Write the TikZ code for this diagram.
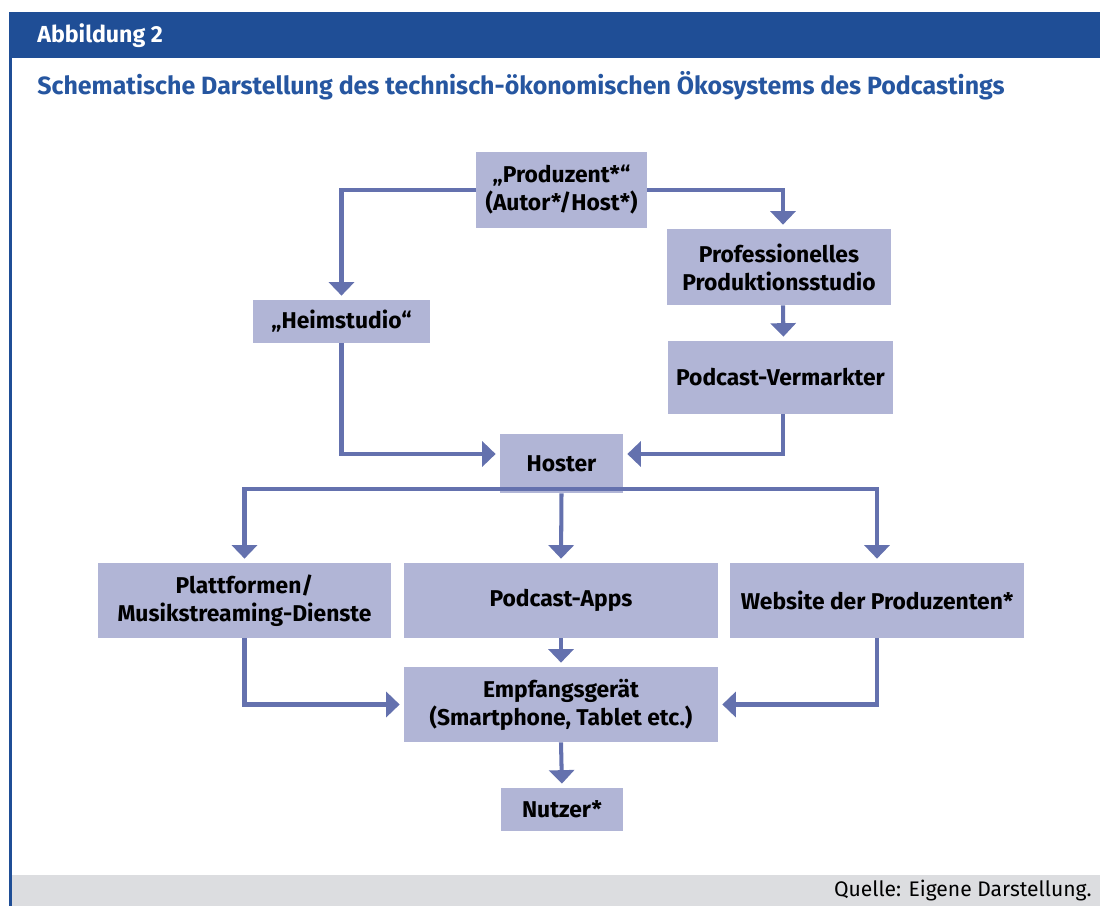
\documentclass[tikz,border=0pt]{standalone}
\usepackage{fontspec}
\setmainfont{Fira Sans}
\usepackage{tikz}
\usetikzlibrary{arrows.meta}
\definecolor{hblue}{HTML}{1F4E96}
\definecolor{tblue}{HTML}{2656A0}
\definecolor{bfill}{HTML}{B1B5D6}
\definecolor{aline}{HTML}{6471AE}
\definecolor{fgray}{HTML}{DCDDE0}
\tikzstyle{box} = [rectangle, fill=bfill, align=center, inner sep=0pt, font=\fontsize{13}{16}\selectfont\bfseries]
\tikzstyle{arrow} = [draw=aline, line width=2.3pt, -{Triangle[width=0.5cm, length=0.27cm]}, shorten >=0.08cm]

\begin{document}
\begin{tikzpicture}[x=0.02cm, y=-0.02cm]
    \useasboundingbox (0,0) rectangle (1100,906);

    % frame
    \fill[hblue] (9,12) rectangle (1100,58);
    \fill[hblue] (9,12) rectangle (12,906);
    \fill[fgray] (12,875) rectangle (1100,906);
    \node[anchor=west, inner sep=0pt, text=white, font=\fontsize{13.2}{15}\selectfont\bfseries] (fig) at (37,36) {Abbildung 2};
    \node[anchor=west, inner sep=0pt, text=tblue, font=\fontsize{14.2}{16}\selectfont\bfseries] (title) at (37,86) {Schematische Darstellung des technisch-ökonomischen Ökosystems des Podcastings};
    \node[anchor=east, inner sep=0pt, font=\fontsize{12}{14}\selectfont] (src) at (1092,891) {Quelle: Eigene Darstellung.};

    % boxes
    \node[box, minimum width=3.42cm, minimum height=1.52cm] at (561.5,190) (prod) {„Produzent*“\\(Autor*/Host*)};
    \node[box, minimum width=4.48cm, minimum height=1.52cm] at (779,267) (prof) {Professionelles\\Produktionsstudio};
    \node[box, minimum width=3.54cm, minimum height=0.86cm] at (341.5,321.5) (heim) {„Heimstudio“};
    \node[box, minimum width=4.5cm, minimum height=1.46cm] at (780.5,377.5) (verm) {Podcast-Vermarkter};
    \node[box, minimum width=2.46cm, minimum height=1.18cm] at (561.5,463.5) (host) {Hoster};
    \node[box, minimum width=5.86cm, minimum height=1.5cm] at (244.5,600.5) (plat) {Plattformen/\\Musikstreaming-Dienste};
    \node[box, minimum width=6.28cm, minimum height=1.5cm] at (561,600.5) (apps) {Podcast-Apps};
    \node[box, minimum width=5.88cm, minimum height=1.5cm] at (877,600.5) (web) {Website der Produzenten*};
    \node[box, minimum width=6.28cm, minimum height=1.5cm] at (561,704.5) (recv) {Empfangsgerät\\(Smartphone, Tablet etc.)};
    \node[box, minimum width=2.44cm, minimum height=0.86cm] at (562,809.5) (user) {Nutzer*};

    % connectors
    \path[arrow] (prod.west) -| (heim.north);
    \path[arrow] (prod.east) -| ([xshift=0.08cm]prof.north);
    \path[arrow] ([xshift=0.08cm]prof.south) -- ([xshift=0.06cm]verm.north);
    \path[arrow] (heim.south) |- ([yshift=0.19cm]host.west);
    \path[arrow] ([xshift=0.05cm]verm.south) |- ([yshift=0.19cm]host.east);

    \path[arrow] ([yshift=0.08cm]host.south) -| (plat.north);
    \path[arrow] ([yshift=0.08cm]host.south) -| (web.north);
    \path[arrow] (host.south) -- (apps.north);

    \path[arrow] (apps.south) -- (recv.north);
    \path[arrow] (plat.south) |- (recv.west);
    \path[arrow] (web.south) |- (recv.east);
    \path[arrow] (recv.south) -- (user.north);

\end{tikzpicture}
\end{document}
